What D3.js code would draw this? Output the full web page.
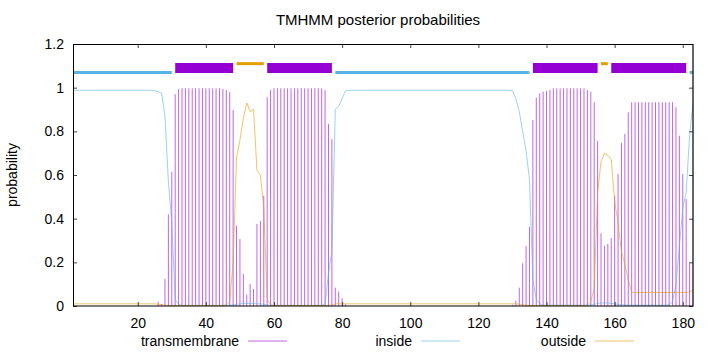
<!DOCTYPE html>
<html>
<head>
<meta charset="utf-8">
<script src="https://cdn.jsdelivr.net/npm/d3@7/dist/d3.min.js"></script>
<style>
body { margin: 0; background: #fff; }
svg { display: block; font-family: "Liberation Sans", Arial, sans-serif; }
</style>
</head>
<body>
<div class="div-chart"></div>
<script>
// posterior probabilities per residue (1..183)
const tmProb = [
  0,0,0,0,0,0,0,0,0,0, 0,0,0,0,0,0,0,0,0,0, 0,0,0,0,0,
  0.02,0.01,0.124,0.42,0.615,0.97,0.994,
  0.997,0.997,0.997,0.997,0.997,0.997,0.997,0.997,0.997,0.997,0.997,0.997,
  0.994,0.99,0.98,0.898,
  0.368,0.307,0.147,0.052,0.10,0.078,0.376,0.39,0.505,
  0.956,0.989,
  0.997,0.997,0.997,0.997,0.997,0.997,0.997,0.997,0.997,0.997,0.997,0.997,0.997,0.997,0.997,
  0.989,0.834,0.765,
  0.084,0.066,0.035,0.008,
  0,0,0,0,0,0,0,0,0,0, 0,0,0,0,0,0,0,0,0,0, 0,0,0,0,0,0,0,0,0,0,
  0,0,0,0,0,0,0,0,0,0, 0,0,0,0,0,0,0,0,
  0.005,0.024,0.084,0.196,0.275,0.363,0.852,0.954,0.974,0.982,0.985,0.99,
  0.997,0.997,0.997,0.997,0.997,0.997,0.997,0.997,0.997,0.997,
  0.99,0.982,0.933,0.757,
  0.333,0.276,0.284,0.311,0.505,0.605,0.747,0.788,0.887,
  0.933,0.933,0.933,0.933,0.933,0.933,0.933,0.933,0.933,0.933,0.933,0.933,0.933,
  0.91,0.78,0.605,0.49,0.196,0
];

const insideProb = [
  0.988,0.988,0.988,0.988,0.988,0.988,0.988,0.988,0.988,0.988,0.988,0.988,
  0.988,0.988,0.988,0.988,0.988,0.988,0.988,0.988,0.988,0.988,0.988,0.988,
  0.986,0.982,0.975,0.87,0.57,0.38,0.03,0.008,
  0.003,0.003,0.003,0.003,0.003,0.003,0.003,0.003,0.003,0.003,0.003,0.003,0.003,0.003,
  0.004,0.005,
  0.008,0.01,0.012,0.012,0.012,0.012,0.01,0.01,0.008,
  0.005,
  0.003,0.003,0.003,0.003,0.003,0.003,0.003,0.003,0.003,0.003,0.003,0.003,0.003,0.003,0.003,0.003,
  0.01,0.15,0.25,0.90,0.915,0.95,0.985,
  0.988,0.988,0.988,0.988,0.988,0.988,0.988,0.988,0.988,0.988,0.988,0.988,
  0.988,0.988,0.988,0.988,0.988,0.988,0.988,0.988,0.988,0.988,0.988,0.988,
  0.988,0.988,0.988,0.988,0.988,0.988,0.988,0.988,0.988,0.988,0.988,0.988,
  0.988,0.988,0.988,0.988,0.988,0.988,0.988,0.988,0.988,0.988,0.988,0.988,
  0.985,0.95,0.89,0.80,0.71,0.58,0.12,0.03,0.01,
  0.004,0.004,0.004,0.004,0.004,0.004,0.004,0.004,0.004,0.004,0.004,0.004,0.004,0.004,
  0.005,0.008,0.012,0.014,0.014,0.014,0.012,0.01,0.008,0.006,0.005,
  0.004,0.004,0.004,0.004,0.004,0.004,0.004,0.004,0.004,0.004,0.004,0.004,
  0.005,0.02,0.10,0.27,0.45,0.52,0.78,0.93
];

const outsideProb = [
  0.01,0.01,0.01,0.01,0.01,0.01,0.01,0.01,0.01,0.01,0.01,0.01,0.01,
  0.01,0.01,0.01,0.01,0.01,0.01,0.01,0.01,0.01,0.01,0.01,0.01,
  0.008,0.006,0.004,
  0.002,0.002,0.002,0.002,0.002,0.002,0.002,0.002,0.002,0.002,0.002,0.002,0.002,0.002,0.002,0.002,0.002,
  0.005,0.02,0.2,0.68,0.76,0.86,0.93,0.89,0.90,0.62,0.60,0.45,0.03,0.006,
  0.002,0.002,0.002,0.002,0.002,0.002,0.002,0.002,0.002,0.002,0.002,0.002,0.002,0.002,0.002,
  0.002,0.003,0.005,0.01,
  0.01,0.01,0.01,0.01,0.01,0.01,0.01,0.01,0.01,0.01,0.01,0.01,0.01,0.01,0.01,0.01,0.01,0.01,
  0.01,0.01,0.01,0.01,0.01,0.01,0.01,0.01,0.01,0.01,0.01,0.01,0.01,0.01,0.01,0.01,0.01,0.01,
  0.01,0.01,0.01,0.01,0.01,0.01,0.01,0.01,0.01,0.01,0.01,0.01,0.01,0.01,0.01,0.01,0.01,
  0.008,0.005,0.004,0.003,
  0.002,0.002,0.002,0.002,0.002,0.002,0.002,0.002,0.002,0.002,0.002,0.002,0.002,0.002,0.002,0.002,
  0.005,0.02,0.08,0.52,0.66,0.70,0.69,0.67,0.48,0.38,0.25,0.19,0.12,
  0.062,0.062,0.062,0.062,0.062,0.062,0.062,0.062,0.062,0.062,0.062,0.062,0.062,0.062,0.062,0.062,0.062,
  0.064,0.075
];

// predicted topology shown above the curves
const topoType  = ['inside', 'TM', 'outside', 'TM', 'inside', 'TM', 'outside', 'TM', 'inside'];
const topoStart = [1, 31, 49, 58, 78, 136, 156, 159, 182];
const topoEnd   = [30, 48, 57, 77, 135, 155, 158, 181, 183];

const xTicks = [20, 40, 60, 80, 100, 120, 140, 160, 180];
const yTicks = [0, 0.2, 0.4, 0.6, 0.8, 1, 1.2];
const seriesNames = ['transmembrane', 'inside', 'outside'];

const width = 720, height = 352;
const margin = {left: 73, right: 27, top: 44, bottom: 46};

const colTM = '#9400d3', colIn = '#56b4e9', colOut = '#e69f00';

const data = tmProb.map((v, i) => ({
  pos: i + 1, tm: v, inside: insideProb[i], outside: outsideProb[i]
}));

const svg = d3.select('.div-chart')
  .append('svg')
  .attr('width', width)
  .attr('height', height);

const xScale = d3.scaleLinear()
  .domain([1, 183])
  .range([margin.left, width - margin.right]);

const yScale = d3.scaleLinear()
  .domain([0, 1.2])
  .range([height - margin.bottom, margin.top]);

svg.append('clipPath').attr('id', 'clip')
  .append('rect')
  .attr('x', margin.left).attr('y', margin.top)
  .attr('width', width - margin.left - margin.right)
  .attr('height', height - margin.top - margin.bottom);

const plot = svg.append('g').attr('clip-path', 'url(#clip)');

// transmembrane impulses
plot.selectAll('.imp')
  .data(data.filter(d => d.tm > 0))
  .enter().append('line')
  .attr('class', 'imp')
  .attr('x1', d => xScale(d.pos))
  .attr('x2', d => xScale(d.pos))
  .attr('y1', yScale(0))
  .attr('y2', d => yScale(d.tm))
  .attr('stroke', colTM)
  .attr('stroke-opacity', 0.6)
  .attr('stroke-width', 1);

const line = key => d3.line()
  .x(d => xScale(d.pos))
  .y(d => yScale(d[key]));

plot.append('path')
  .datum(data)
  .attr('d', line('inside'))
  .attr('fill', 'none')
  .attr('stroke', colIn)
  .attr('stroke-opacity', 0.6)
  .attr('stroke-width', 1);

plot.append('path')
  .datum(data)
  .attr('d', line('outside'))
  .attr('fill', 'none')
  .attr('stroke', colOut)
  .attr('stroke-opacity', 0.6)
  .attr('stroke-width', 1);

// topology bars
const topoLevel = {inside: 1.07, TM: 1.09, outside: 1.11};
const topoColor = {inside: colIn, TM: colTM, outside: colOut};
const topoWidth = {inside: 3, TM: 10, outside: 3};

svg.selectAll('.topo')
  .data(topoType.map((t, i) => ({type: t, start: topoStart[i], end: topoEnd[i]})))
  .enter().append('line')
  .attr('class', 'topo')
  .attr('x1', d => xScale(d.start))
  .attr('x2', d => xScale(d.end))
  .attr('y1', d => yScale(topoLevel[d.type]))
  .attr('y2', d => yScale(topoLevel[d.type]))
  .attr('stroke', d => topoColor[d.type])
  .attr('stroke-width', d => topoWidth[d.type]);

// axes
const x0 = margin.left, x1 = width - margin.right;
const y0 = height - margin.bottom, y1 = margin.top;

const axisB = svg.append('g')
  .attr('transform', `translate(0,${y0})`)
  .call(d3.axisBottom(xScale).tickValues(xTicks).tickSize(-4).tickPadding(12));
const axisT = svg.append('g')
  .attr('transform', `translate(0,${y1})`)
  .call(d3.axisTop(xScale).tickValues(xTicks).tickSize(-4).tickFormat(''));
const axisL = svg.append('g')
  .attr('transform', `translate(${x0},0)`)
  .call(d3.axisLeft(yScale).tickValues(yTicks).tickSize(-4).tickPadding(9)
    .tickFormat(d => d3.format('~g')(d)));
const axisR = svg.append('g')
  .attr('transform', `translate(${x1},0)`)
  .call(d3.axisRight(yScale).tickValues(yTicks).tickSize(-4).tickFormat(''));

[axisB, axisT, axisL, axisR].forEach(a => {
  a.select('.domain').remove();
  a.selectAll('line').attr('stroke', '#444');
  a.selectAll('text').attr('fill', '#000').style('font-size', '14px')
    .style('font-family', '"Liberation Sans", Arial, sans-serif');
});

// border
svg.append('path')
  .attr('d', `M${x0 + 0.5},${y0}V${y1 + 0.5}H${x1}`)
  .attr('fill', 'none').attr('stroke', '#000').attr('stroke-width', 1);
svg.append('path')
  .attr('d', `M${x1},${y1}V${y0}H${x0}`)
  .attr('fill', 'none').attr('stroke', '#000').attr('stroke-width', 1.2);

svg.append('text')
  .attr('x', 378).attr('y', 25)
  .attr('text-anchor', 'middle')
  .style('font-size', '15px')
  .text('TMHMM posterior probabilities');

svg.append('text')
  .attr('transform', `translate(17,${(y0 + y1) / 2}) rotate(-90)`)
  .attr('text-anchor', 'middle')
  .style('font-size', '14px')
  .text('probability');

// key
const keyTextEnd = [239, 412, 586];
const keyColors = [colTM, colIn, colOut];
const key = svg.selectAll('.key')
  .data(seriesNames)
  .enter().append('g')
  .attr('class', 'key');
key.append('text')
  .attr('x', (d, i) => keyTextEnd[i])
  .attr('y', 346)
  .attr('text-anchor', 'end')
  .style('font-size', '14px')
  .text(d => d);
key.append('line')
  .attr('x1', (d, i) => keyTextEnd[i] + 9)
  .attr('x2', (d, i) => keyTextEnd[i] + 48)
  .attr('y1', 341).attr('y2', 341)
  .attr('stroke', (d, i) => keyColors[i])
  .attr('stroke-opacity', 0.6)
  .attr('stroke-width', 1);
</script>
</body>
</html>
